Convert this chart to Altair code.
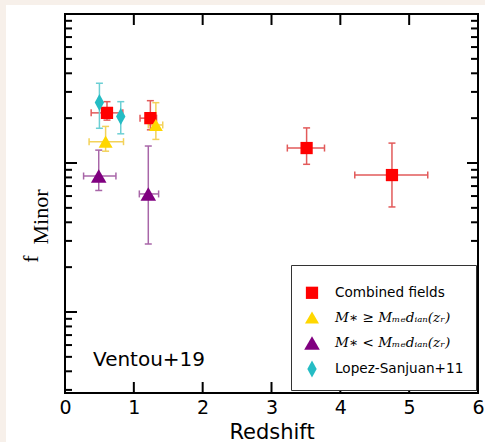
import altair as alt
import pandas as pd

series = ["Combined fields", "M∗ ≥ Mₘₑdᵢₐₙ(zᵣ)", "M∗ < Mₘₑdᵢₐₙ(zᵣ)", "Lopez-Sanjuan+11"]

# Combined fields (red squares)
red_z = [0.61, 1.24, 3.51, 4.75]
red_f = [0.217, 0.200, 0.126, 0.083]
red_zlo = [0.38, 1.09, 3.23, 4.21]
red_zhi = [0.84, 1.33, 3.77, 5.27]
red_flo = [0.194, 0.167, 0.098, 0.0507]
red_fhi = [0.258, 0.262, 0.172, 0.136]

# M* >= Mmedian (gold triangles)
hi_z = [0.59, 1.32]
hi_f = [0.139, 0.180]
hi_zlo = [0.35, 1.21]
hi_zhi = [0.85, 1.42]
hi_flo = [0.120, 0.144]
hi_fhi = [0.176, 0.254]

# M* < Mmedian (purple triangles)
lo_z = [0.49, 1.21]
lo_f = [0.0818, 0.062]
lo_zlo = [0.27, 1.08]
lo_zhi = [0.74, 1.36]
lo_flo = [0.0654, 0.0286]
lo_fhi = [0.122, 0.130]

# Lopez-Sanjuan+11 (cyan diamonds)
ls_z = [0.50, 0.81]
ls_f = [0.255, 0.205]
ls_flo = [0.171, 0.157]
ls_fhi = [0.343, 0.258]

x_label_values = [0, 1, 2, 3, 4, 5, 6]
x_tick_values = [1, 2, 3, 4, 5]
y_major = [0.01, 0.1]
y_minor = [0.003, 0.004, 0.005, 0.006, 0.007, 0.008, 0.009,
           0.02, 0.03, 0.04, 0.05, 0.06, 0.07, 0.08, 0.09,
           0.2, 0.3, 0.4, 0.5, 0.6, 0.7, 0.8, 0.9]

colors = ["#ff0000", "#ffd700", "#800080", "#25bcc4"]
err_colors = ["#e25a5a", "#f3d25a", "#a866a8", "#6ccfd4"]
shapes = ["square", "triangle-up", "triangle-up", "M0,-1L0.55,0L0,1L-0.55,0Z"]
sizes = [150, 290, 290, 150]
ecolor_of = dict(zip(series, err_colors))


def rows(name, z, f, flo, fhi, zlo=None, zhi=None):
    out = []
    for i in range(len(z)):
        out.append(dict(series=name, z=z[i], f=f[i], flo=flo[i], fhi=fhi[i],
                        zlo=zlo[i] if zlo else z[i], zhi=zhi[i] if zhi else z[i],
                        xerr=zlo is not None, ecolor=ecolor_of[name]))
    return out


df = pd.DataFrame(
    rows(series[0], red_z, red_f, red_flo, red_fhi, red_zlo, red_zhi)
    + rows(series[1], hi_z, hi_f, hi_flo, hi_fhi, hi_zlo, hi_zhi)
    + rows(series[2], lo_z, lo_f, lo_flo, lo_fhi, lo_zlo, lo_zhi)
    + rows(series[3], ls_z, ls_f, ls_flo, ls_fhi)
)

X = alt.Scale(domain=[0, 6], nice=False, zero=False)
Y = alt.Scale(type="log", domain=[0.00286, 1.0], nice=False)
XAX = alt.Axis(
    values=x_label_values, format="d", title="Redshift", ticks=False, tickSize=0,
    domain=False, grid=False, labelFontSize=19, titleFontSize=21,
    labelFont="DejaVu Sans", titleFont="DejaVu Sans", titleFontWeight="normal",
    labelColor="black", titleColor="black", labelPadding=5, titlePadding=4,
    labelFlush=False)


def xq(field):
    return alt.X(field, type="quantitative", scale=X, axis=XAX, title="Redshift")


def yq(field):
    return alt.Y(field, type="quantitative", scale=Y, axis=None)


ecol = alt.Color("ecolor:N", scale=None)

base = alt.Chart(df)
xerr = base.transform_filter("datum.xerr")

hbar = xerr.mark_rule(strokeWidth=1.5).encode(
    x=xq("zlo"), x2="zhi:Q", y=yq("f"), color=ecol)
vbar = base.mark_rule(strokeWidth=1.5).encode(
    x=xq("z"), y=yq("flo"), y2="fhi:Q", color=ecol)
hcap1 = xerr.mark_tick(orient="vertical", size=7, thickness=1.5, opacity=1).encode(
    x=xq("zlo"), y=yq("f"), color=ecol)
hcap2 = xerr.mark_tick(orient="vertical", size=7, thickness=1.5, opacity=1).encode(
    x=xq("zhi"), y=yq("f"), color=ecol)
vcap1 = base.mark_tick(orient="horizontal", size=7, thickness=1.5, opacity=1).encode(
    x=xq("z"), y=yq("flo"), color=ecol)
vcap2 = base.mark_tick(orient="horizontal", size=7, thickness=1.5, opacity=1).encode(
    x=xq("z"), y=yq("fhi"), color=ecol)

serif_rows = "(datum.index == 1 || datum.index == 2)"
leg = alt.Legend(
    title=" ", titleFontSize=1, titlePadding=8,
    orient="none", legendX=226, legendY=251, padding=12,
    strokeColor="#333333", fillColor="white", cornerRadius=0,
    labelFontSize=13.6, labelColor="black", labelLimit=300,
    labelFont={"expr": serif_rows + " ? 'DejaVu Serif' : 'DejaVu Sans'"},
    labelFontStyle={"expr": serif_rows + " ? 'italic' : 'normal'"},
    rowPadding=10, labelOffset=14, symbolStrokeWidth=0, symbolOpacity=1, zindex=1,
)

points = base.mark_point(filled=True, opacity=1, strokeWidth=0).encode(
    x=xq("z"), y=yq("f"),
    color=alt.Color("series:N", scale=alt.Scale(domain=series, range=colors), legend=leg),
    shape=alt.Shape("series:N", scale=alt.Scale(domain=series, range=shapes), legend=leg),
    size=alt.Size("series:N", scale=alt.Scale(domain=series, range=sizes), legend=leg),
)

W, H = 413, 379
one = pd.DataFrame({"a": [0]})
tx = pd.DataFrame({"t": x_tick_values})
tmaj = pd.DataFrame({"t": y_major})
tmin = pd.DataFrame({"t": y_minor})

tick_style = dict(color="black", strokeWidth=2)
xb = alt.Chart(tx).mark_rule(**tick_style).encode(
    x=xq("t"), y=alt.value(H), y2=alt.value(H - 11))
xt = alt.Chart(tx).mark_rule(**tick_style).encode(
    x=xq("t"), y=alt.value(0), y2=alt.value(11))
yl_maj = alt.Chart(tmaj).mark_rule(**tick_style).encode(
    y=yq("t"), x=alt.value(0), x2=alt.value(12))
yl_min = alt.Chart(tmin).mark_rule(**tick_style).encode(
    y=yq("t"), x=alt.value(0), x2=alt.value(7))
yr_maj = alt.Chart(tmaj).mark_rule(**tick_style).encode(
    y=yq("t"), x=alt.value(W - 11), x2=alt.value(W))
yr_min = alt.Chart(tmin).mark_rule(**tick_style).encode(
    y=yq("t"), x=alt.value(W - 7), x2=alt.value(W))

beige = "#f7f0ea"
strip_left = alt.Chart(one).mark_rect(color=beige).encode(
    x=alt.value(-65), x2=alt.value(-59), y=alt.value(-14), y2=alt.value(428))
strip_top = alt.Chart(one).mark_rect(color=beige).encode(
    x=alt.value(-65), x2=alt.value(420), y=alt.value(-14), y2=alt.value(-9))

f_text = alt.Chart(one).mark_text(
    text="f", font="Liberation Serif", fontSize=22, angle=270,
    align="center", baseline="alphabetic", color="black").encode(
    x=alt.value(-27), y=alt.value(245))
minor_text = alt.Chart(one).mark_text(
    text="Minor", font="Liberation Serif", fontSize=22, angle=270,
    align="center", baseline="alphabetic", color="black").encode(
    x=alt.value(-17), y=alt.value(203))
ventou = alt.Chart(one).mark_text(
    text="Ventou+19", font="DejaVu Sans", fontSize=20,
    align="left", baseline="alphabetic", color="black").encode(
    x=alt.value(28), y=alt.value(352))

chart = alt.layer(
    strip_left, strip_top,
    hbar, vbar, hcap1, hcap2, vcap1, vcap2, points,
    xb, xt, yl_maj, yl_min, yr_maj, yr_min,
    f_text, minor_text, ventou,
).properties(
    width=W, height=H,
    padding={"left": 65, "top": 14, "right": 7, "bottom": 49},
    autosize=alt.AutoSizeParams(type="none"),
    background="white",
).configure_view(stroke="black", strokeWidth=2)

chart.save("out.html", embed_options={"renderer": "svg", "actions": False})
